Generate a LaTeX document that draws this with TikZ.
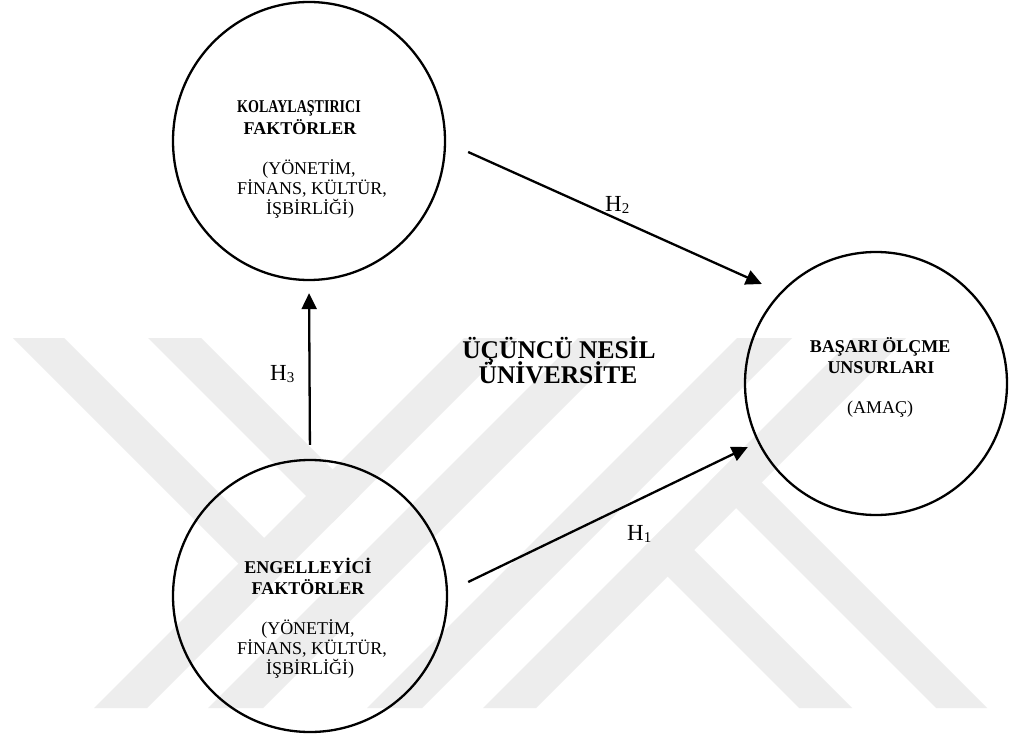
\documentclass[tikz,border=0pt]{standalone}
\usepackage{fontspec}
\setmainfont{Liberation Serif}
\usepackage{graphicx}
\usetikzlibrary{arrows.meta,shapes.geometric,calc}
\begin{document}
\begin{tikzpicture}[x=1pt,y=-1pt,
  wm/.style={fill=black!7,draw=none},
  circ/.style={draw,line width=2.3pt,ellipse,inner sep=0pt},
  arr/.style={line width=2.3pt,-{Triangle[length=16pt,width=15pt]}},
  bt/.style={font=\fontsize{18}{20}\selectfont\bfseries,anchor=base,inner sep=0pt},
  rt/.style={font=\fontsize{18}{20}\selectfont,anchor=base,inner sep=0pt},
  big/.style={font=\fontsize{25.5}{28}\selectfont\bfseries,anchor=base,inner sep=0pt},
  hl/.style={font=\fontsize{23}{25}\selectfont,anchor=base west,inner sep=0pt}]
\useasboundingbox (0,0) rectangle (1009,735);
\fill[white] (0,0) rectangle (1009,735);
% watermark
\fill[wm] (13,338) -- (64,338) -- (290.5,564.5) -- (265,590) -- cycle;
\fill[wm] (148,338) -- (201,338) -- (359,496) -- (332.5,522.5) -- cycle;
\fill[wm] (464,338) -- (517,338) -- (147,708) -- (94,708) -- cycle;
\fill[wm] (578,338) -- (633,338) -- (263,708) -- (208,708) -- cycle;
\fill[wm] (737,338) -- (792,338) -- (422,708) -- (367,708) -- cycle;
\fill[wm] (853,338) -- (906,338) -- (536,708) -- (483,708) -- cycle;
\fill[wm] (641,550) -- (667.5,523.5) -- (852,708) -- (799,708) -- cycle;
\fill[wm] (709.5,481.5) -- (735,456) -- (987,708) -- (936,708) -- cycle;
% circles
\node[circ,minimum width=272pt,minimum height=278pt] (kol) at (309,141) {};
\node[circ,minimum width=274pt,minimum height=272pt] (eng) at (310,596) {};
\node[circ,minimum width=262pt,minimum height=263pt] (bas) at (876,383.5) {};
% texts
\node[bt] (k1) at (299,113) {\scalebox{0.78}[1]{KOLAYLAŞTIRICI}};
\node[bt] (k2) at (300,134.5) {FAKTÖRLER};
\node[rt] (k3) at (309,175) {(YÖNETİM,};
\node[rt] (k4) at (312,195) {FİNANS, KÜLTÜR,};
\node[rt] (k5) at (310,215) {İŞBİRLİĞİ)};
\node[bt] (e1) at (308,573) {ENGELLEYİCİ};
\node[bt] (e2) at (308,594) {FAKTÖRLER};
\node[rt] (e3) at (308,634) {(YÖNETİM,};
\node[rt] (e4) at (312,654) {FİNANS, KÜLTÜR,};
\node[rt] (e5) at (310,674) {İŞBİRLİĞİ)};
\node[bt] (b1) at (880,352) {BAŞARI ÖLÇME};
\node[bt] (b2) at (881,373) {UNSURLARI};
\node[rt] (b3) at (880,413) {(AMAÇ)};
\node[big] (u1) at (559,358) {ÜÇÜNCÜ NESİL};
\node[big] (u2) at (558,383) {ÜNİVERSİTE};
% connectors
\coordinate (h2s) at ($(kol.east)+(22,11)$);
\coordinate (h2e) at ($(bas.west)+(18,-99.5)$);
\coordinate (h1s) at ($(eng.east)+(20,-14)$);
\coordinate (h1e) at ($(bas.west)+(4,63.5)$);
\draw[arr,shorten <=14pt,shorten >=12pt] (eng.north) -- (kol.south);
\draw[arr] (h2s) -- (h2e);
\draw[arr] (h1s) -- (h1e);
% labels
\node[hl] (l3) at (270,380) {H\raisebox{-2pt}{\fontsize{15}{15}\selectfont 3}};
\node[hl] (l2) at (605,211.5) {H\raisebox{-2pt}{\fontsize{15}{15}\selectfont 2}};
\node[hl] (l1) at (627,540) {H\raisebox{-2pt}{\fontsize{15}{15}\selectfont 1}};
\end{tikzpicture}
\end{document}
